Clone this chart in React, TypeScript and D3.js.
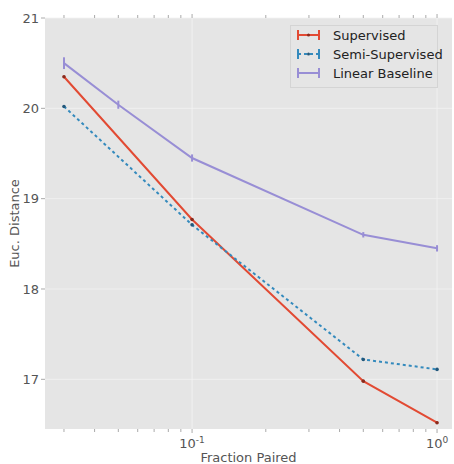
import React, { useRef, useEffect } from "react";
import * as d3 from "d3";

// values
const fractions = [0.03, 0.1, 0.5, 1.0];
const baselineFractions = [0.03, 0.05, 0.1, 0.5, 1.0];
const supervised = [20.35, 18.77, 16.98, 16.52];
const supervisedErr = [0.01, 0.01, 0.01, 0.01];
const semiSupervised = [20.02, 18.71, 17.22, 17.11];
const semiErr = [0.01, 0.01, 0.01, 0.01];
const baseline = [20.5, 20.04, 19.45, 18.6, 18.45];
const baselineErr = [0.065, 0.045, 0.04, 0.03, 0.035];
const yTicks = [17, 18, 19, 20, 21];
const xMajor = [0.1, 1];
const xMajorLabels = ["-1", "0"];
const xMinor = [0.03, 0.04, 0.05, 0.06, 0.07, 0.08, 0.09, 0.2, 0.3, 0.4, 0.5, 0.6, 0.7, 0.8, 0.9];
const seriesNames = ["Supervised", "Semi-Supervised", "Linear Baseline"];
const colors = ["#E24A33", "#348ABD", "#988ED5"];
const markerColors = ["#8a2a1c", "#22577a", null];

const App = () => {
  const svgRef = useRef(null);

  useEffect(() => {
    const width = 454,
      height = 464;
    const plot = { left: 45, top: 18, right: 452, bottom: 429 };

    const svg = d3.select(svgRef.current);
    svg.selectAll("*").remove();
    svg.attr("width", width).attr("height", height);

    const font = "'DejaVu Sans', sans-serif";

    const x = d3.scaleLog().domain([0.0251, 1.151]).range([plot.left, plot.right]);
    const y = d3.scaleLinear().domain([16.45, 21]).range([plot.bottom, plot.top]);

    // background
    svg
      .append("rect")
      .attr("x", plot.left)
      .attr("y", plot.top)
      .attr("width", plot.right - plot.left)
      .attr("height", plot.bottom - plot.top)
      .attr("fill", "#E5E5E5");

    // grid (faint white)
    const grid = svg.append("g").attr("stroke", "#f3f3f3").attr("stroke-width", 0.8);
    yTicks.forEach((t) => {
      grid.append("line").attr("x1", plot.left).attr("x2", plot.right).attr("y1", y(t)).attr("y2", y(t));
    });
    xMajor.forEach((t) => {
      grid.append("line").attr("x1", x(t)).attr("x2", x(t)).attr("y1", plot.top).attr("y2", plot.bottom);
    });

    // ticks
    const ticks = svg.append("g").attr("stroke", "#aaa").attr("stroke-width", 1);
    [...xMajor, ...xMinor].forEach((t) => {
      const len = xMajor.includes(t) ? 4 : 3;
      ticks.append("line").attr("x1", x(t)).attr("x2", x(t)).attr("y1", plot.bottom).attr("y2", plot.bottom + len);
      ticks.append("line").attr("x1", x(t)).attr("x2", x(t)).attr("y1", plot.top).attr("y2", plot.top - len);
    });
    yTicks.forEach((t) => {
      ticks.append("line").attr("x1", plot.left).attr("x2", plot.left - 4).attr("y1", y(t)).attr("y2", y(t));
    });

    // tick labels
    yTicks.forEach((t) => {
      svg
        .append("text")
        .attr("x", plot.left - 6)
        .attr("y", y(t))
        .attr("dy", "0.35em")
        .attr("text-anchor", "end")
        .attr("font-family", font)
        .attr("font-size", 13)
        .attr("fill", "#555")
        .text(t);
    });
    xMajor.forEach((t, i) => {
      const lab = svg
        .append("text")
        .attr("x", x(t))
        .attr("y", 448)
        .attr("text-anchor", "middle")
        .attr("font-family", font)
        .attr("font-size", 13)
        .attr("fill", "#555");
      lab.append("tspan").text("10");
      lab.append("tspan").attr("dy", -5).attr("font-size", 9).text(xMajorLabels[i]);
    });

    // axis labels
    svg
      .append("text")
      .attr("x", (plot.left + plot.right) / 2)
      .attr("y", 462)
      .attr("text-anchor", "middle")
      .attr("font-family", font)
      .attr("font-size", 13)
      .attr("fill", "#555")
      .text("Fraction Paired");
    svg
      .append("text")
      .attr("transform", `translate(19,${(plot.top + plot.bottom) / 2}) rotate(-90)`)
      .attr("text-anchor", "middle")
      .attr("font-family", font)
      .attr("font-size", 13)
      .attr("fill", "#555")
      .text("Euc. Distance");

    const series = [
      { xs: fractions, ys: supervised, err: supervisedErr, dash: null },
      { xs: fractions, ys: semiSupervised, err: semiErr, dash: "3,3" },
      { xs: baselineFractions, ys: baseline, err: baselineErr, dash: null },
    ];

    const line = d3
      .line()
      .x((d) => x(d[0]))
      .y((d) => y(d[1]));

    series.forEach((s, i) => {
      const g = svg.append("g");
      const pts = s.xs.map((xv, j) => [xv, s.ys[j]]);
      g.append("path")
        .attr("d", line(pts))
        .attr("fill", "none")
        .attr("stroke", colors[i])
        .attr("stroke-width", 2)
        .attr("stroke-dasharray", s.dash);
      // error bars
      pts.forEach((p, j) => {
        g.append("line")
          .attr("x1", x(p[0]))
          .attr("x2", x(p[0]))
          .attr("y1", y(p[1] - s.err[j]))
          .attr("y2", y(p[1] + s.err[j]))
          .attr("stroke", colors[i])
          .attr("stroke-width", 2);
      });
      if (markerColors[i]) {
        g.selectAll("circle")
          .data(pts)
          .enter()
          .append("circle")
          .attr("cx", (d) => x(d[0]))
          .attr("cy", (d) => y(d[1]))
          .attr("r", 1.8)
          .attr("fill", markerColors[i]);
      }
    });

    // legend
    const legend = svg.append("g");
    legend
      .append("rect")
      .attr("x", 290.5)
      .attr("y", 25.5)
      .attr("width", 147)
      .attr("height", 62)
      .attr("fill", "#E5E5E5")
      .attr("stroke", "#d4d4d4")
      .attr("stroke-width", 1);
    seriesNames.forEach((name, i) => {
      const ly = 35 + i * 19;
      const x1 = 298,
        x2 = 319;
      legend
        .append("line")
        .attr("x1", x1)
        .attr("x2", x2)
        .attr("y1", ly)
        .attr("y2", ly)
        .attr("stroke", colors[i])
        .attr("stroke-width", 2)
        .attr("stroke-dasharray", series[i].dash ? "3,3" : null);
      [x1, x2].forEach((cx) => {
        legend
          .append("line")
          .attr("x1", cx)
          .attr("x2", cx)
          .attr("y1", ly - 5)
          .attr("y2", ly + 5)
          .attr("stroke", colors[i])
          .attr("stroke-width", 2);
      });
      if (markerColors[i]) {
        legend
          .append("circle")
          .attr("cx", (x1 + x2) / 2)
          .attr("cy", ly)
          .attr("r", 1.5)
          .attr("fill", markerColors[i]);
      }
      legend
        .append("text")
        .attr("x", 333)
        .attr("y", ly)
        .attr("dy", "0.35em")
        .attr("font-family", font)
        .attr("font-size", 13)
        .attr("fill", "#222")
        .text(name);
    });
  }, []);

  return <svg ref={svgRef} style={{ position: "absolute", left: 0, top: 0 }}></svg>;
};

export default App;
